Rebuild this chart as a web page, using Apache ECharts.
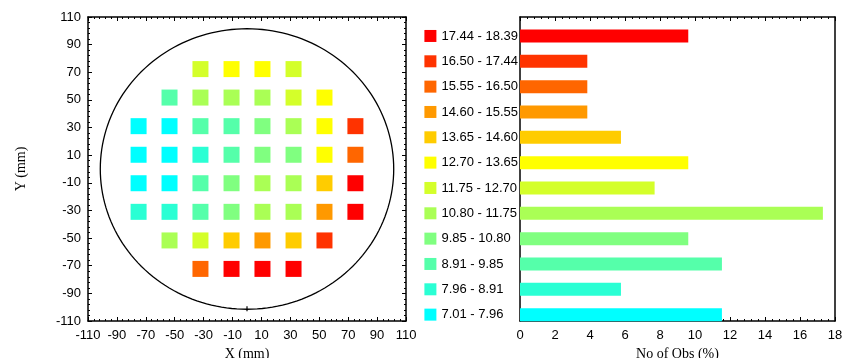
<!DOCTYPE html>
<html>
<head>
<meta charset="utf-8">
<script src="https://cdn.jsdelivr.net/npm/echarts@6/dist/echarts.min.js"></script>
<style>
  html, body { margin: 0; padding: 0; background: #fff; }
  #chart { width: 845px; height: 358px; }
</style>
</head>
<body>
<div id="chart"></div>
<script>
// Die centre positions on the wafer (mm)
const dieX = [-75, -53.6, -32.2, -10.7, 10.7, 32.2, 53.6, 75];
const dieY = [72.3, 51.7, 31, 10.3, -10.3, -31, -51.7, -72.3];

// Measured value per die, row by row from the top (null = no die)
const dieValues = [
  [null, null, 12.31, 13.22, 13.05, 12.14, null, null],
  [null, 9.41, 11.32, 11.08, 11.52, 12.43, 13.34, null],
  [7.30, 7.52, 9.63, 9.21, 10.42, 11.24, 13.41, 17.12],
  [7.01, 7.44, 8.53, 9.32, 10.21, 10.63, 13.12, 16.22],
  [7.62, 7.81, 9.54, 10.13, 11.03, 11.41, 14.22, 18.04],
  [8.22, 8.61, 9.72, 10.51, 11.22, 11.63, 15.11, 18.39],
  [null, 11.04, 12.52, 14.03, 15.31, 14.42, 16.83, null],
  [null, null, 15.92, 17.63, 18.21, 17.81, null, null]
];

// Histogram classes, low to high
const binEdges = [7.01, 7.96, 8.91, 9.85, 10.80, 11.75, 12.70, 13.65, 14.60, 15.55, 16.50, 17.44, 18.39];
const binColors = ['#00FFFF', '#2AFFD4', '#55FFAA', '#80FF80', '#AAFF55', '#D4FF2A',
                   '#FFFF00', '#FFCC00', '#FF9900', '#FF6600', '#FF3300', '#FF0000'];
const binLabels = ['7.01 - 7.96', '7.96 - 8.91', '8.91 - 9.85', '9.85 - 10.80', '10.80 - 11.75',
                   '11.75 - 12.70', '12.70 - 13.65', '13.65 - 14.60', '14.60 - 15.55',
                   '15.55 - 16.50', '16.50 - 17.44', '17.44 - 18.39'];

// Axis ranges
const waferAxisMin = -110, waferAxisMax = 110, waferAxisStep = 20;
const obsAxisMin = 0, obsAxisMax = 18, obsAxisStep = 2;
const waferRadius = 101.5;

function binIndex(v) {
  for (let i = 0; i < binEdges.length - 1; i++) {
    if (v < binEdges[i + 1]) return i;
  }
  return binEdges.length - 2;
}

// Scatter points for every die
const dies = [];
dieValues.forEach((row, r) => {
  row.forEach((v, c) => {
    if (v != null) dies.push([dieX[c], dieY[r], v]);
  });
});

// Share of dies in each class (%)
const counts = binColors.map(() => 0);
dies.forEach(d => { counts[binIndex(d[2])]++; });
const percents = counts.map(n => n / dies.length * 100);

// Bar chart lists classes from high (top) to low (bottom)
const barCats = binLabels.slice().reverse();
const barColors = binColors.slice().reverse();
const barValues = percents.slice().reverse();

const font = 'Liberation Sans, Arial, sans-serif';
const serif = 'Liberation Serif, Times New Roman, serif';
const frameLine = { show: true, onZero: false, lineStyle: { color: '#000', width: 1.5 } };
const tickIn = { show: true, inside: true, length: 4, lineStyle: { color: '#000', width: 1 } };
const minorIn = { show: true, splitNumber: 5, length: 2, lineStyle: { color: '#000', width: 1 } };
const tickLabel = { color: '#000', fontSize: 13, fontFamily: font };

function frameAxis(extra) {
  return Object.assign({
    type: 'value',
    axisLine: frameLine,
    axisTick: tickIn,
    minorTick: minorIn,
    splitLine: { show: false },
    minorSplitLine: { show: false }
  }, extra);
}

const richLabels = { t: { color: '#000', fontSize: 13, fontFamily: font, padding: [0, 0, 0, 5] } };
barColors.forEach((c, i) => {
  richLabels['c' + i] = { width: 12, height: 12, backgroundColor: c };
});

const chart = echarts.init(document.getElementById('chart'));

chart.setOption({
  animation: false,
  backgroundColor: '#fff',
  grid: [
    { left: 88, top: 17, width: 318, height: 304, containLabel: false, outerBoundsMode: 'none' },
    { left: 520, top: 17, width: 315, height: 304, containLabel: false, outerBoundsMode: 'none' },
    { left: 520, top: 23.3, width: 315, height: 304, containLabel: false, outerBoundsMode: 'none' }
  ],
  xAxis: [
    frameAxis({
      gridIndex: 0, position: 'bottom', min: waferAxisMin, max: waferAxisMax, interval: waferAxisStep,
      axisLabel: Object.assign({ margin: 8 }, tickLabel),
      name: 'X (mm)', nameLocation: 'middle', nameGap: 26,
      nameTextStyle: { fontFamily: serif, fontSize: 14, color: '#000' }
    }),
    frameAxis({
      gridIndex: 0, position: 'top', min: waferAxisMin, max: waferAxisMax, interval: waferAxisStep,
      axisLabel: { show: false }
    }),
    frameAxis({
      gridIndex: 1, position: 'bottom', min: obsAxisMin, max: obsAxisMax, interval: obsAxisStep,
      axisLabel: Object.assign({ margin: 8 }, tickLabel),
      name: 'No of Obs (%)', nameLocation: 'middle', nameGap: 26,
      nameTextStyle: { fontFamily: serif, fontSize: 14, color: '#000' }
    }),
    frameAxis({
      gridIndex: 1, position: 'top', min: obsAxisMin, max: obsAxisMax, interval: obsAxisStep,
      axisLabel: { show: false }
    }),
    {
      type: 'value', gridIndex: 2, min: obsAxisMin, max: obsAxisMax, show: false
    }
  ],
  yAxis: [
    frameAxis({
      gridIndex: 0, position: 'left', min: waferAxisMin, max: waferAxisMax, interval: waferAxisStep,
      axisLabel: Object.assign({ margin: 7 }, tickLabel),
      name: 'Y (mm)', nameLocation: 'middle', nameGap: 60, nameRotate: 90,
      nameTextStyle: { fontFamily: serif, fontSize: 14, color: '#000' }
    }),
    frameAxis({
      gridIndex: 0, position: 'right', min: waferAxisMin, max: waferAxisMax, interval: waferAxisStep,
      axisLabel: { show: false }
    }),
    frameAxis({
      gridIndex: 1, position: 'left', min: 0, max: 1,
      axisTick: { show: false }, minorTick: { show: false }, axisLabel: { show: false }
    }),
    frameAxis({
      gridIndex: 1, position: 'right', min: 0, max: 1,
      axisTick: { show: false }, minorTick: { show: false }, axisLabel: { show: false }
    }),
    {
      type: 'category', gridIndex: 2, data: barCats, inverse: true,
      axisLine: { show: false }, axisTick: { show: false }, splitLine: { show: false },
      axisLabel: {
        align: 'left', margin: 95.6,
        formatter: (name, idx) => '{c' + idx + '|}{t|' + name + '}',
        rich: richLabels
      }
    }
  ],
  series: [
    {
      // wafer outline with notch
      type: 'custom', xAxisIndex: 0, yAxisIndex: 0, silent: true, clip: false,
      data: [[0, 0]],
      renderItem: (params, api) => {
        const pts = [];
        for (let a = 0; a <= 360; a += 2) {
          const rad = a * Math.PI / 180;
          pts.push(api.coord([waferRadius * Math.cos(rad), waferRadius * Math.sin(rad)]));
        }
        const notch = api.coord([0, -waferRadius]);
        return {
          type: 'group',
          children: [
            { type: 'polyline', shape: { points: pts }, style: { stroke: '#000', lineWidth: 1.3, fill: null } },
            { type: 'line', shape: { x1: notch[0], y1: notch[1] - 3, x2: notch[0], y2: notch[1] + 2 },
              style: { stroke: '#000', lineWidth: 1.2 } }
          ]
        };
      }
    },
    {
      type: 'scatter', xAxisIndex: 0, yAxisIndex: 0, silent: true,
      symbol: 'rect', symbolSize: 16,
      data: dies,
      itemStyle: { color: p => binColors[binIndex(p.value[2])], opacity: 1 }
    },
    {
      type: 'bar', xAxisIndex: 4, yAxisIndex: 4, silent: true,
      barWidth: 13,
      data: barValues.map((v, i) => ({ value: v, itemStyle: { color: barColors[i] } }))
    }
  ]
});
</script>
</body>
</html>
